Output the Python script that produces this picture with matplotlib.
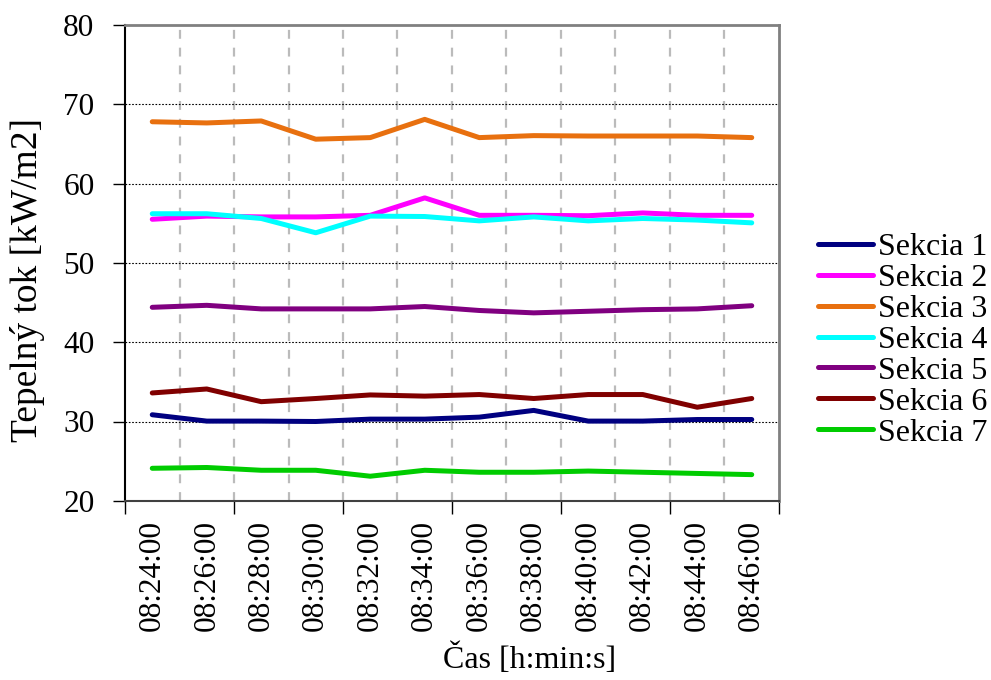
import matplotlib
matplotlib.use("Agg")
import matplotlib.pyplot as plt
import numpy as np

plt.rcParams['font.family'] = ['Liberation Serif', 'DejaVu Serif']

times = ["08:24:00", "08:26:00", "08:28:00", "08:30:00", "08:32:00", "08:34:00",
         "08:36:00", "08:38:00", "08:40:00", "08:42:00", "08:44:00", "08:46:00"]

sekcia1 = [30.85, 30.05, 30.05, 30.0, 30.3, 30.3, 30.55, 31.4, 30.05, 30.05, 30.25, 30.25]
sekcia2 = [55.5, 55.9, 55.8, 55.8, 56.0, 58.2, 56.0, 56.0, 55.95, 56.3, 56.0, 56.0]
sekcia3 = [67.8, 67.65, 67.9, 65.6, 65.8, 68.1, 65.8, 66.05, 66.0, 66.0, 66.0, 65.8]
sekcia4 = [56.2, 56.2, 55.6, 53.8, 55.9, 55.85, 55.3, 55.8, 55.3, 55.6, 55.4, 55.05]
sekcia5 = [44.4, 44.65, 44.2, 44.2, 44.2, 44.5, 44.0, 43.7, 43.9, 44.1, 44.2, 44.6]
sekcia6 = [33.6, 34.1, 32.5, 32.9, 33.35, 33.2, 33.4, 32.9, 33.4, 33.4, 31.8, 32.9]
sekcia7 = [24.1, 24.2, 23.85, 23.85, 23.1, 23.85, 23.6, 23.6, 23.75, 23.6, 23.45, 23.3]

series = [sekcia1, sekcia2, sekcia3, sekcia4, sekcia5, sekcia6, sekcia7]
labels = ["Sekcia 1", "Sekcia 2", "Sekcia 3", "Sekcia 4", "Sekcia 5", "Sekcia 6", "Sekcia 7"]
colors = ["#000080", "#FF00FF", "#E8700F", "#00FFFF", "#800080", "#800000", "#00CC00"]

fig = plt.figure(figsize=(9.91, 6.80), dpi=100)
ax = fig.add_axes([125/991, 1 - 500.8/680, (779 - 125)/991, (500.8 - 25)/680])

n = len(times)
x = np.arange(n)

# gridlines
for v in np.arange(0.5, n - 1, 1.0):
    ax.axvline(v, color="#BBBBBB", linestyle=(0, (4, 4)), linewidth=1.6, zorder=1)
ax.set_ylim(20, 80)
ax.set_yticks(np.arange(20, 81, 10))
for v in np.arange(30, 80, 10):
    ax.axhline(v, color="black", linestyle=(0, (1.5, 1.5)), linewidth=0.8, zorder=1)

for s, lab, c in zip(series, labels, colors):
    ax.plot(x, s, color=c, linewidth=3.6, label=lab, solid_capstyle="round",
            solid_joinstyle="round", zorder=3)

ax.set_xlim(-0.5, n - 0.5)
ax.set_xticks(np.arange(-0.5, n, 2.0))
ax.set_xticklabels([])
ax.set_xticks(x, minor=True)
ax.set_xticklabels(times, minor=True, rotation=90, fontsize=22.5)
ax.tick_params(axis="x", which="major", direction="out", length=9, width=1, color="black")
ax.tick_params(axis="x", which="minor", length=0, pad=14)
ax.tick_params(axis="y", direction="out", length=9, width=1, labelsize=22.5, pad=13)

for sp in ["top", "right"]:
    ax.spines[sp].set_color("#808080")
    ax.spines[sp].set_linewidth(2)
ax.spines["left"].set_color("black")
ax.spines["left"].set_linewidth(1.5)
ax.spines["bottom"].set_color("#404040")
ax.spines["bottom"].set_linewidth(1.5)

ax.set_ylabel("Tepelný tok [kW/m2]", fontsize=27)
ax.yaxis.set_label_coords(-0.122, 0.464)
ax.set_xlabel("Čas [h:min:s]", fontsize=23)
ax.xaxis.set_label_coords(0.618, -0.30)

leg = fig.legend(loc="center left", bbox_to_anchor=(818/991, 1 - 340/680),
                 frameon=False, fontsize=23, handlelength=1.72, handletextpad=0.15,
                 labelspacing=0.05, borderpad=0, borderaxespad=0)
for h in leg.get_lines():
    h.set_linewidth(3.6)

fig.savefig("out.png", dpi=100)
